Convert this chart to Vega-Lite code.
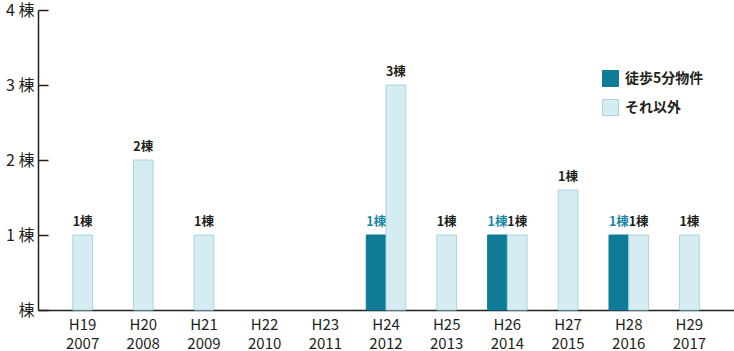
{
  "$schema": "https://vega.github.io/schema/vega-lite/v6.json",
  "width": 696,
  "height": 300,
  "autosize": {"type": "none"},
  "padding": {"left": 38, "top": 10, "right": 0, "bottom": 41},
  "background": "white",
  "config": {
    "view": {"stroke": null},
    "font": "Noto Sans CJK JP"
  },
  "data": {
    "values": [
      {"year": "H19 2007", "series": "それ以外", "value": 1, "label": "1棟"},
      {"year": "H20 2008", "series": "それ以外", "value": 2, "label": "2棟"},
      {"year": "H21 2009", "series": "それ以外", "value": 1, "label": "1棟"},
      {"year": "H24 2012", "series": "徒歩5分物件", "value": 1, "label": "1棟"},
      {"year": "H24 2012", "series": "それ以外", "value": 3, "label": "3棟"},
      {"year": "H25 2013", "series": "それ以外", "value": 1, "label": "1棟"},
      {"year": "H26 2014", "series": "徒歩5分物件", "value": 1, "label": "1棟"},
      {"year": "H26 2014", "series": "それ以外", "value": 1, "label": "1棟"},
      {"year": "H27 2015", "series": "それ以外", "value": 1.6, "label": "1棟"},
      {"year": "H28 2016", "series": "徒歩5分物件", "value": 1, "label": "1棟"},
      {"year": "H28 2016", "series": "それ以外", "value": 1, "label": "1棟"},
      {"year": "H29 2017", "series": "それ以外", "value": 1, "label": "1棟"}
    ]
  },
  "transform": [
    {"joinaggregate": [{"op": "count", "as": "n"}], "groupby": ["year"]}
  ],
  "resolve": {"axis": {"y": "independent"}},
  "encoding": {
    "x": {
      "field": "year",
      "type": "nominal",
      "sort": null,
      "scale": {
        "domain": ["H19 2007", "H20 2008", "H21 2009", "H22 2010", "H23 2011", "H24 2012", "H25 2013", "H26 2014", "H27 2015", "H28 2016", "H29 2017"],
        "paddingInner": 0.35,
        "paddingOuter": 0.41
      },
      "axis": {
        "title": null,
        "labelAngle": 0,
        "ticks": false,
        "domainColor": "#231f20",
        "domainWidth": 1.5,
        "labelExpr": "split(datum.value, ' ')",
        "labelFontSize": 15,
        "labelLineHeight": 19,
        "labelColor": "#231f20",
        "labelPadding": 7,
        "labelFont": "Noto Sans CJK JP"
      }
    }
  },
  "layer": [
    {
      "transform": [{"filter": "datum.n == 2"}],
      "mark": {"type": "bar", "strokeWidth": 1},
      "encoding": {
        "y": {
          "field": "value",
          "type": "quantitative",
          "scale": {"domain": [0, 4], "nice": false},
          "axis": {
            "title": null,
            "orient": "left",
            "values": [0, 1, 2, 3, 4],
            "grid": false,
            "domainColor": "#231f20",
            "domainWidth": 1.5,
            "ticks": false,
            "labelPadding": 4,
            "labelFontSize": 16,
            "labelColor": "#231f20",
            "labelFont": "Noto Sans CJK JP",
            "labelExpr": "datum.value == 0 ? '棟' : datum.value + ' 棟'"
          }
        },
        "xOffset": {
          "field": "series",
          "type": "nominal",
          "scale": {"domain": ["徒歩5分物件", "それ以外"], "paddingInner": 0, "paddingOuter": 0}
        },
        "color": {
          "field": "series",
          "type": "nominal",
          "scale": {"domain": ["徒歩5分物件", "それ以外"], "range": ["#0f7b96", "#d5edf2"]},
          "legend": {
            "title": null,
            "orient": "none",
            "legendX": 564,
            "legendY": 60,
            "padding": 0,
            "symbolType": "square",
            "symbolSize": 256,
            "symbolStrokeWidth": 1,
            "rowPadding": 8,
            "labelFontSize": 14,
            "labelFontWeight": "bold",
            "labelColor": "#231f20",
            "labelOffset": 6,
            "labelFont": "Noto Sans CJK JP"
          }
        },
        "stroke": {
          "field": "series",
          "type": "nominal",
          "scale": {"domain": ["徒歩5分物件", "それ以外"], "range": ["#0f7b96", "#a6d6e2"]},
          "legend": null
        }
      }
    },
    {
      "transform": [{"filter": "datum.n == 2"}],
      "mark": {"type": "text", "baseline": "bottom", "dy": -6, "fontSize": 12.5, "fontWeight": "bold", "font": "Noto Sans CJK JP"},
      "encoding": {
        "y": {"field": "value", "type": "quantitative", "axis": null},
        "xOffset": {
          "field": "series",
          "type": "nominal",
          "scale": {"domain": ["徒歩5分物件", "それ以外"], "paddingInner": 0, "paddingOuter": 0}
        },
        "text": {"field": "label"},
        "color": {
          "condition": {"test": "datum.series === '徒歩5分物件'", "value": "#1b87a6"},
          "value": "#231f20"
        }
      }
    },
    {
      "transform": [{"filter": "datum.n == 1"}],
      "mark": {"type": "bar", "width": {"band": 0.5}, "strokeWidth": 1},
      "encoding": {
        "y": {
          "field": "value",
          "type": "quantitative",
          "axis": {
            "title": null,
            "orient": "left",
            "values": [0, 1, 2, 3, 4],
            "grid": false,
            "domain": false,
            "labels": false,
            "offset": -10,
            "tickSize": 10,
            "tickWidth": 1.5,
            "tickColor": "#231f20"
          }
        },
        "color": {"field": "series", "type": "nominal"},
        "stroke": {"field": "series", "type": "nominal", "legend": null}
      }
    },
    {
      "transform": [{"filter": "datum.n == 1"}],
      "mark": {"type": "text", "baseline": "bottom", "dy": -6, "fontSize": 12.5, "fontWeight": "bold", "font": "Noto Sans CJK JP", "color": "#231f20"},
      "encoding": {
        "y": {"field": "value", "type": "quantitative", "axis": null},
        "text": {"field": "label"}
      }
    }
  ]
}
